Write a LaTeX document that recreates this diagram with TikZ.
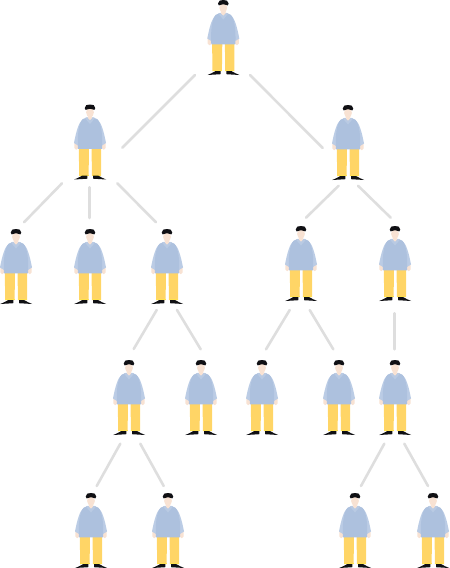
\documentclass[tikz,border=0pt]{standalone}
\definecolor{shirt}{HTML}{ADC1DE}
\definecolor{sleeve}{HTML}{BBCCE5}
\definecolor{collar}{HTML}{B9CAE3}
\definecolor{pants}{HTML}{FFD566}
\definecolor{cuff}{HTML}{FFE04F}
\definecolor{skin}{HTML}{F8E2D3}
\definecolor{hair}{HTML}{101014}
\definecolor{linkgrey}{HTML}{DEDEDE}
\tikzset{
  x=1pt,y=-1pt,
  link/.style={draw=linkgrey,line width=2.6pt,line cap=round},
  person/.pic={
    % hands
    \fill[skin,rounded corners=1.5pt] (-15.6,36) rectangle (-11.8,45);
    \fill[skin,rounded corners=1.5pt] (11.8,36) rectangle (15.6,45);
    % legs
    \fill[pants] (-11.2,43) -- (-1,43) -- (-1.4,71) -- (-10.8,71) -- cycle;
    \fill[pants] (1.6,43) -- (11.2,43) -- (11,71) -- (1.9,71) -- cycle;
    \fill[cuff] (-10.8,70) rectangle (-1.4,71);
    \fill[cuff] (1.9,70) rectangle (11,71);
    % shoes
    \fill[hair] (-2.6,71.2) -- (-2.6,74.2) -- (-15.8,75) .. controls (-13,73.6) and (-10,72.8) .. (-8,71.2) -- cycle;
    \fill[hair] (3,71.2) -- (3,74.2) -- (16.2,75) .. controls (13.4,73.6) and (10.4,72.8) .. (8.4,71.2) -- cycle;
    % sleeves
    \fill[sleeve] (-7,15) .. controls (-11.5,17.5) and (-14,28) .. (-16,38.5) -- (-12,41) -- (-9,24) -- cycle;
    \fill[sleeve] (7,15) .. controls (11.5,17.5) and (14,28) .. (16,38.5) -- (12,41) -- (9,24) -- cycle;
    % torso
    \fill[shirt] (-3.5,13) -- (-7.5,14.8) .. controls (-11.5,19) and (-12.8,32) .. (-12,44.3) -- (12,44.3) .. controls (12.8,32) and (11.5,19) .. (7.5,14.8) -- (3.5,13) -- cycle;
    \fill[collar] (-5,13.6) -- (0,19.5) -- (5,13.6) -- (3.2,12.8) -- (-3.2,12.8) -- cycle;
    % neck and face
    \fill[skin] (-2.2,10) -- (2.2,10) -- (2.2,13.5) -- (0,15.5) -- (-2.2,13.5) -- cycle;
    \fill[skin] (0,7.8) ellipse [x radius=3.9,y radius=5];
    % hair
    \fill[hair] (-5.3,3.6) .. controls (-5.6,0.8) and (-2.5,-0.3) .. (0,0) .. controls (2.5,-0.3) and (5.6,0.8) .. (5.3,3.6) .. controls (5,5.8) and (3.8,5.8) .. (3.2,5) .. controls (1.5,4) and (-1.5,4) .. (-3.2,5) .. controls (-3.8,5.8) and (-5,5.8) .. (-5.3,3.6) -- cycle;
  }
}
\begin{document}
\begin{tikzpicture}
\useasboundingbox (0,0) rectangle (450,568);
% people (head-top anchors)
\coordinate (p1) at (223.3,0);
\coordinate (p2) at (90,104.5);
\coordinate (p3) at (348,105);
\coordinate (p4) at (16,229);
\coordinate (p5) at (90,229);
\coordinate (p6) at (167,229);
\coordinate (p7) at (301,226);
\coordinate (p8) at (395,226);
\coordinate (p9) at (129,360);
\coordinate (p10) at (201,360);
\coordinate (p11) at (262,360);
\coordinate (p12) at (339,360);
\coordinate (p13) at (395,360);
\coordinate (p14) at (91,493);
\coordinate (p15) at (168,493);
\coordinate (p16) at (355,493);
\coordinate (p17) at (433,493);
\foreach \i in {1,...,17} \path (p\i) pic {person};
% connector ends
\coordinate (a1) at (195,75);    \coordinate (b1) at (122.3,147.7);
\coordinate (a2) at (250,75);    \coordinate (b2) at (322.7,148);
\coordinate (a3) at (62,183.3);  \coordinate (b3) at (24,222.3);
\coordinate (a4) at (89.7,187.3);\coordinate (b4) at (89.7,218);
\coordinate (a5) at (117.3,183.3);\coordinate (b5) at (156,222.3);
\coordinate (a6) at (338.7,185.7);\coordinate (b6) at (306,217.7);
\coordinate (a7) at (358,185.7); \coordinate (b7) at (390.7,217.7);
\coordinate (a8) at (156.7,310); \coordinate (b8) at (133.7,349);
\coordinate (a9) at (177,310);   \coordinate (b9) at (200.7,349.3);
\coordinate (a10) at (289.7,310);\coordinate (b10) at (266,349.3);
\coordinate (a11) at (309.7,310);\coordinate (b11) at (333.3,349.3);
\coordinate (a12) at (394.7,313.3);\coordinate (b12) at (394.7,349.3);
\coordinate (a13) at (120.3,443.7);\coordinate (b13) at (96.7,486);
\coordinate (a14) at (140.3,443.7);\coordinate (b14) at (163.7,486);
\coordinate (a15) at (384.3,443.7);\coordinate (b15) at (361,486);
\coordinate (a16) at (404.3,443.7);\coordinate (b16) at (428,486);
\foreach \i in {1,...,16} \draw[link] (a\i) -- (b\i);
\end{tikzpicture}
\end{document}
